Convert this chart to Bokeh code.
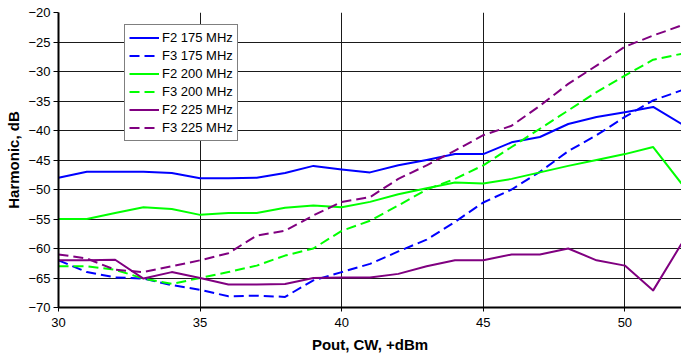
from bokeh.plotting import figure
from bokeh.models import Range1d, FixedTicker, Legend, LegendItem
from bokeh.embed import file_html
from bokeh.resources import INLINE

# Data (Pout, CW, +dBm vs harmonic level, dB)
pout = [30, 31, 32, 33, 34, 35, 36, 37, 38, 39, 40, 41, 42, 43, 44, 45, 46, 47, 48, 49, 50, 51, 52]
f2_175 = [-48, -47, -47, -47, -47.2, -48.1, -48.1, -48, -47.2, -46, -46.6, -47.1, -45.9, -45, -44, -44, -42, -41.1, -38.9, -37.7, -36.9, -36, -38.9]
f3_175 = [-62, -64, -64.9, -65.1, -66.2, -67, -68.1, -68, -68.2, -65.4, -64, -62.6, -60.5, -58.5, -55.5, -52.2, -50, -47, -43.5, -40.8, -37.7, -34.9, -33.2]
f2_200 = [-55, -55, -54, -53, -53.3, -54.3, -54, -54, -53.1, -52.7, -53, -52.1, -50.8, -49.8, -48.8, -49, -48.2, -47.1, -46, -45, -44, -42.8, -49]
f3_200 = [-63, -63, -63.6, -65.1, -66, -65, -64, -62.9, -61.2, -60, -57, -55.3, -52.7, -50, -48.2, -45.9, -42.8, -39.7, -36.6, -33.5, -30.7, -28, -27]
f2_225 = [-62, -62, -61.9, -65.1, -64, -65, -66.1, -66.1, -66, -65, -64.9, -64.9, -64.3, -63, -62, -62, -61, -61, -60, -62, -62.9, -67.1, -59.2]
f3_225 = [-61, -61.7, -63.6, -64, -63, -62, -60.8, -57.8, -57, -54.4, -52.1, -51.3, -48.2, -45.9, -43.4, -40.8, -39.2, -35.8, -32.1, -29, -25.8, -23.9, -22.2]

series_names = ["F2 175 MHz", "F3 175 MHz", "F2 200 MHz", "F3 200 MHz", "F2 225 MHz", "F3 225 MHz"]
x_ticks = [30, 35, 40, 45, 50]
y_ticks = [-70, -65, -60, -55, -50, -45, -40, -35, -30, -25, -20]

FONT = "Liberation Sans"

p = figure(width=681, height=360, output_backend="svg", toolbar_location=None,
           x_range=Range1d(30, 52), y_range=Range1d(-70, -20),
           min_border_left=58, min_border_right=0, min_border_top=12, min_border_bottom=53)
p.outline_line_color = None
p.background_fill_color = "white"
p.border_fill_color = "white"

# grid
p.xgrid.ticker = FixedTicker(ticks=x_ticks)
p.ygrid.ticker = FixedTicker(ticks=y_ticks)
for g in (p.xgrid, p.ygrid):
    g.grid_line_color = "#1a1a1a"
    g.grid_line_width = 1

# axes
p.xaxis.ticker = FixedTicker(ticks=x_ticks)
p.yaxis.ticker = FixedTicker(ticks=y_ticks)
for ax in (p.xaxis, p.yaxis):
    ax.axis_line_color = "black"
    ax.axis_line_width = 2
    ax.major_tick_line_color = "black"
    ax.major_tick_in = 0
    ax.minor_tick_line_color = None
    ax.major_label_text_font = FONT
    ax.major_label_text_font_size = "13px"
    ax.major_label_text_color = "black"
    ax.axis_label_text_font = FONT
    ax.axis_label_text_font_size = "15px"
    ax.axis_label_text_font_style = "bold"
    ax.axis_label_text_color = "black"
p.xaxis.major_tick_out = 4
p.yaxis.major_tick_out = 5
p.xaxis.major_label_standoff = 6
p.yaxis.major_label_standoff = 3
p.xaxis.axis_label = "Pout, CW, +dBm"
p.yaxis.axis_label = "Harmonic, dB"
p.xaxis.axis_label_standoff = 6
p.yaxis.axis_label_standoff = 3

colors = ["#0000ff", "#0000ff", "#00ff00", "#00ff00", "#800080", "#800080"]
dashes = ["solid", "10 5", "solid", "10 5", "solid", "10 5"]
data = [f2_175, f3_175, f2_200, f3_200, f2_225, f3_225]

items = []
for name, ys, c, d in zip(series_names, data, colors, dashes):
    r = p.line(pout, ys, line_color=c, line_width=2, line_dash=d, line_join="round")
    items.append(LegendItem(label=name, renderers=[r]))

legend = Legend(items=items, location=(66, 166))
legend.label_text_font = FONT
legend.label_text_font_size = "13px"
legend.label_text_color = "black"
legend.glyph_width = 30
legend.glyph_height = 17
legend.label_height = 17
legend.label_standoff = 3
legend.spacing = 1
legend.padding = 4
legend.margin = 0
legend.border_line_color = "black"
legend.border_line_width = 1
legend.background_fill_color = "white"
legend.background_fill_alpha = 1
p.add_layout(legend, "center")

open("out.html", "w").write(file_html(p, INLINE))
